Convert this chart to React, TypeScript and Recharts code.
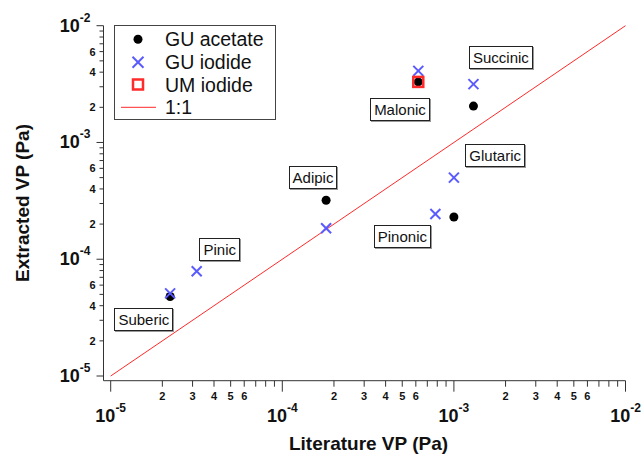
import React from 'react';
import { ScatterChart, Scatter, XAxis, YAxis, ReferenceLine, ReferenceDot, Legend } from 'recharts';

// ---- data (Literature VP vs Extracted VP, Pa) ----
const guAcetateNames = ['Suberic', 'Adipic', 'Pinonic', 'Malonic', 'Succinic'];
const guAcetateLit = [2.22e-5, 1.8e-4, 1.0e-3, 6.2e-4, 1.3e-3];
const guAcetateExt = [4.8e-5, 3.2e-4, 2.3e-4, 3.3e-3, 2.05e-3];

const guIodideNames = ['Suberic', 'Pinic', 'Adipic', 'Pinonic', 'Glutaric', 'Malonic', 'Succinic'];
const guIodideLit = [2.22e-5, 3.17e-5, 1.8e-4, 7.8e-4, 1.0e-3, 6.2e-4, 1.3e-3];
const guIodideExt = [5.1e-5, 7.9e-5, 1.84e-4, 2.44e-4, 5.0e-4, 4.1e-3, 3.16e-3];

const umIodideNames = ['Malonic'];
const umIodideLit = [6.2e-4];
const umIodideExt = [3.3e-3];

const oneToOne = [1e-5, 1e-2];

// annotation boxes (anchor in data coordinates)
const annotNames = ['Suberic', 'Pinic', 'Adipic', 'Malonic', 'Succinic', 'Glutaric', 'Pinonic'];
const annotLit = [1.56e-5, 4.32e-5, 1.51e-4, 4.85e-4, 1.88e-3, 1.74e-3, 5.01e-4];
const annotExt = [3.02e-5, 1.21e-4, 5.06e-4, 1.91e-3, 5.33e-3, 7.69e-4, 1.56e-4];

const xExponents = [-5, -4, -3, -2];
const yExponents = [-5, -4, -3, -2];
const mantissas = [1, 2, 3, 4, 5, 6, 7, 8, 9];
const xMinorLabeled = [2, 3, 4, 5, 6];
const yMinorLabeled = [2, 4, 6];

const legendNames = ['GU acetate', 'GU iodide', 'UM iodide', '1:1'];

const FONT = '"Liberation Sans", Arial, Helvetica, sans-serif';
const BLUE = '#5a5aff';
const RED = '#ff2a2a';
const AXIS = '#333';

const buildTicks = (exps: number[]) => {
  const out: number[] = [];
  exps.forEach((e, i) => {
    if (i === exps.length - 1) {
      out.push(Math.pow(10, e));
    } else {
      mantissas.forEach((m) => out.push(m * Math.pow(10, e)));
    }
  });
  return out;
};
const xTicks = buildTicks(xExponents);
const yTicks = buildTicks(yExponents);

const decompose = (v: number) => {
  const e = Math.floor(Math.log10(v) + 1e-9);
  const m = Math.round(v / Math.pow(10, e));
  return { e, m };
};

const toPoints = (lit: number[], ext: number[], names: string[]) =>
  lit.map((x, i) => ({ x, y: ext[i], name: names[i] }));

const guAcetateData = toPoints(guAcetateLit, guAcetateExt, guAcetateNames);
const guIodideData = toPoints(guIodideLit, guIodideExt, guIodideNames);
const umIodideData = toPoints(umIodideLit, umIodideExt, umIodideNames);

const XTick = (props: any) => {
  const { x, y, payload } = props;
  const { e, m } = decompose(payload.value);
  if (m === 1) {
    return (
      <g>
        <line x1={x} y1={y} x2={x} y2={y + 11} stroke={AXIS} strokeWidth={1} />
        <text x={x} y={y + 41} textAnchor="middle" fontFamily={FONT} fontWeight="bold" fill="#111">
          <tspan fontSize={18}>10</tspan>
          <tspan fontSize={12} dy={-10}>{String(e)}</tspan>
        </text>
      </g>
    );
  }
  return (
    <g>
      <line x1={x} y1={y} x2={x} y2={y + 6} stroke={AXIS} strokeWidth={1} />
      {xMinorLabeled.includes(m) && (
        <text x={x} y={y + 19} textAnchor="middle" fontFamily={FONT} fontWeight="bold" fontSize={11} fill="#111">
          {m}
        </text>
      )}
    </g>
  );
};

const YTick = (props: any) => {
  const { x, y, payload } = props;
  const { e, m } = decompose(payload.value);
  if (m === 1) {
    return (
      <g>
        <line x1={x} y1={y} x2={x - 7} y2={y} stroke={AXIS} strokeWidth={1} />
        <text x={x - 13} y={y + 6} textAnchor="end" fontFamily={FONT} fontWeight="bold" fill="#111">
          <tspan fontSize={18}>10</tspan>
          <tspan fontSize={12} dy={-10}>{String(e)}</tspan>
        </text>
      </g>
    );
  }
  return (
    <g>
      <line x1={x} y1={y} x2={x - 4} y2={y} stroke={AXIS} strokeWidth={1} />
      {yMinorLabeled.includes(m) && (
        <text x={x - 8} y={y + 4} textAnchor="end" fontFamily={FONT} fontWeight="bold" fontSize={11} fill="#111">
          {m}
        </text>
      )}
    </g>
  );
};

const Dot = (p: any) => <circle cx={p.cx} cy={p.cy} r={4.5} fill="#000" />;
const Cross = (p: any) => (
  <g stroke={BLUE} strokeWidth={2}>
    <line x1={p.cx - 5} y1={p.cy - 5} x2={p.cx + 5} y2={p.cy + 5} />
    <line x1={p.cx - 5} y1={p.cy + 5} x2={p.cx + 5} y2={p.cy - 5} />
  </g>
);
const Square = (p: any) => (
  <rect x={p.cx - 5} y={p.cy - 5} width={10} height={10} fill="none" stroke={RED} strokeWidth={2.5} />
);

const AnnotBox = (props: any) => {
  const { cx, cy, text } = props;
  if (cx == null || cy == null) return null;
  return (
    <foreignObject x={cx - 60} y={cy - 15} width={120} height={30}>
      <div
        style={{
          width: '100%',
          height: '100%',
          display: 'flex',
          alignItems: 'center',
          justifyContent: 'center',
        }}
      >
        <div
          style={{
            border: '1px solid #222',
            background: '#fff',
            padding: '0 3px',
            fontFamily: FONT,
            fontSize: 15,
            lineHeight: '21px',
            color: '#111',
            boxShadow: '1px 1px 0 #999',
            whiteSpace: 'nowrap',
          }}
        >
          {text}
        </div>
      </div>
    </foreignObject>
  );
};

const LegendBox = () => {
  const rowY = [14.3, 37.3, 59.5, 82.3];
  const sx = 24;
  return (
    <svg width={162} height={95} style={{ display: 'block' }}>
      <rect x={0.5} y={0.5} width={161} height={94} fill="#fff" stroke="#444" strokeWidth={1} />
      <circle cx={sx} cy={rowY[0]} r={4.5} fill="#000" />
      <g stroke={BLUE} strokeWidth={2}>
        <line x1={sx - 5.5} y1={rowY[1] - 5.5} x2={sx + 5.5} y2={rowY[1] + 5.5} />
        <line x1={sx - 5.5} y1={rowY[1] + 5.5} x2={sx + 5.5} y2={rowY[1] - 5.5} />
      </g>
      <rect x={sx - 5} y={rowY[2] - 5} width={10} height={10} fill="none" stroke={RED} strokeWidth={2.5} />
      <line x1={7} y1={rowY[3]} x2={42} y2={rowY[3]} stroke={RED} strokeWidth={1} />
      {legendNames.map((n, i) => (
        <text key={n} x={51} y={rowY[i]} dy="0.36em" fontFamily={FONT} fontSize={19.5} fill="#111">
          {n}
        </text>
      ))}
    </svg>
  );
};

export default function App() {
  return (
    <div style={{ position: 'absolute', left: 0, top: 0, width: 643, height: 462, background: '#fff' }}>
      <ScatterChart
        width={643}
        height={462}
        margin={{ top: 25.7, right: 17.5, bottom: 21.3, left: 43.5 }}
      >
        <XAxis
          dataKey="x"
          type="number"
          scale="log"
          domain={[1e-5, 1e-2]}
          allowDataOverflow
          ticks={xTicks}
          interval={0}
          tick={<XTick />}
          tickLine={false}
          tickSize={0}
          tickMargin={0}
          height={60}
          padding={{ left: 7.2, right: 0 }}
          axisLine={{ stroke: AXIS, strokeWidth: 1 }}
          label={(p: any) => {
            const vb = p.viewBox || {};
            return (
              <text
                x={vb.x + vb.width / 2 + 4}
                y={450}
                textAnchor="middle"
                fontFamily={FONT}
                fontWeight="bold"
                fontSize={19}
                fill="#111"
              >
                Literature VP (Pa)
              </text>
            );
          }}
        />
        <YAxis
          dataKey="y"
          type="number"
          scale="log"
          domain={[1e-5, 1e-2]}
          allowDataOverflow
          ticks={yTicks}
          interval={0}
          tick={<YTick />}
          tickLine={false}
          tickSize={0}
          tickMargin={0}
          width={60}
          padding={{ top: 0, bottom: 4.7 }}
          axisLine={{ stroke: AXIS, strokeWidth: 1 }}
          label={() => (
            <text
              x={22}
              y={203}
              transform="rotate(-90 22 203)"
              textAnchor="middle"
              dy="0.36em"
              fontFamily={FONT}
              fontWeight="bold"
              fontSize={19}
              fill="#111"
            >
              Extracted VP (Pa)
            </text>
          )}
        />
        <ReferenceLine
          segment={[
            { x: oneToOne[0], y: oneToOne[0] },
            { x: oneToOne[1], y: oneToOne[1] },
          ]}
          stroke={RED}
          strokeWidth={1}
          ifOverflow="visible"
        />
        <Scatter name="GU acetate" data={guAcetateData} shape={<Dot />} isAnimationActive={false} />
        <Scatter name="GU iodide" data={guIodideData} shape={<Cross />} isAnimationActive={false} />
        <Scatter name="UM iodide" data={umIodideData} shape={<Square />} isAnimationActive={false} />
        {annotNames.map((n, i) => (
          <ReferenceDot
            key={n}
            x={annotLit[i]}
            y={annotExt[i]}
            r={0}
            ifOverflow="visible"
            shape={(p: any) => <AnnotBox cx={p.cx} cy={p.cy} text={n} />}
          />
        ))}
        <Legend
          layout="horizontal"
          verticalAlign="middle"
          align="center"
          content={() => <LegendBox />}
          wrapperStyle={{ position: 'absolute', left: 114, top: 25, width: 162, height: 95 }}
        />
      </ScatterChart>
    </div>
  );
}
